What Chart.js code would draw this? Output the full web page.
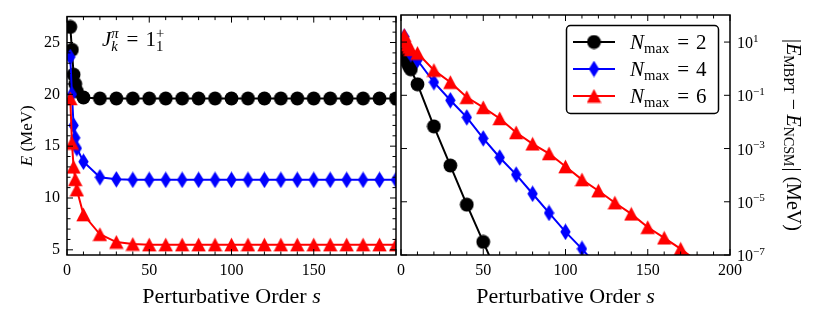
<!DOCTYPE html>
<html><head><meta charset="utf-8">
<script src="https://cdn.jsdelivr.net/npm/chart.js@4/dist/chart.umd.min.js"></script>
<style>
html,body{margin:0;padding:0;background:#fff;}
#wrap{position:relative;width:814px;height:319px;overflow:hidden;background:#fff;}
canvas{position:absolute;left:0;top:0;}
</style></head><body>
<div id="wrap">
<canvas id="cLeft" width="814" height="319" style="width:814px;height:319px"></canvas>
<canvas id="cRight" width="814" height="319" style="width:814px;height:319px"></canvas>
</div>
<script>
// ---------------- data ----------------
const orders = [2,3,4,5,6,10,20,30,40,50,60,70,80,90,100,110,120,130,140,150,160,170,180,190,200];
const nmaxValues = [2,4,6];
// left panel: E (MeV)
const energyNmax2 = [26.5,24.3,21.9,21.0,20.3,19.7,19.6,19.6,19.6,19.6,19.6,19.6,19.6,19.6,19.6,19.6,19.6,19.6,19.6,19.6,19.6,19.6,19.6,19.6,19.6];
const energyNmax4 = [23.6,20.0,17.0,15.8,14.8,13.5,12.0,11.8,11.75,11.75,11.75,11.75,11.75,11.75,11.75,11.75,11.75,11.75,11.75,11.75,11.75,11.75,11.75,11.75,11.75];
const energyNmax6 = [19.6,15.3,13.0,11.8,10.8,8.4,6.5,5.75,5.55,5.5,5.5,5.5,5.5,5.5,5.5,5.5,5.5,5.5,5.5,5.5,5.5,5.5,5.5,5.5,5.5];
// right panel: |E_MBPT - E_NCSM| (MeV)
const diffNmax2 = [3.6,2.6,1.6,1.2,0.95,0.26,6.8e-3,2.3e-4,7.8e-6,3.1e-7,1.2e-8];
const diffNmax4 = [16,9,6,4.5,3.5,2.1,0.31,0.065,0.0148,2.4e-3,4.6e-4,1.05e-4,2.0e-5,3.8e-6,7.4e-7,1.7e-7,3.5e-8];
const diffNmax6 = [18,11,8,6.5,5.3,3.85,0.88,0.31,0.084,0.035,0.0135,4.0e-3,1.5e-3,6.5e-4,2.1e-4,6.8e-5,2.6e-5,9.2e-6,3.5e-6,1.1e-6,4.4e-7,1.7e-7,5.9e-8,2.2e-8];
// ticks
const orderTicks = [0,50,100,150,200];
const energyTicks = [5,10,15,20,25];
const diffTicks = [1e1,1e-1,1e-3,1e-5,1e-7];
const diffTickExponents = ['1','\u22121','\u22123','\u22125','\u22127'];

// ---------------- helpers ----------------
const FAM = '"Liberation Serif", "Times New Roman", serif';
const fnt = (sz, it) => (it ? 'italic ' : '') + sz + 'px ' + FAM;
const pts = (xs, ys) => ys.map((v, i) => ({x: xs[i], y: v}));

function makeMarker(kind, color){
  const c = document.createElement('canvas');
  let w, h;
  if (kind === 'circle'){ w = 15; h = 15; }
  else if (kind === 'diamond'){ w = 11; h = 17; }
  else { w = 15; h = 15; }
  c.width = w; c.height = h;
  const g = c.getContext('2d');
  g.fillStyle = color; g.beginPath();
  if (kind === 'circle') g.arc(w/2, h/2, 6.9, 0, Math.PI*2);
  else if (kind === 'diamond'){ g.moveTo(w/2,0.3); g.lineTo(w-0.3,h/2); g.lineTo(w/2,h-0.3); g.lineTo(0.3,h/2); g.closePath(); }
  else { g.moveTo(w/2,0.5); g.lineTo(w-0.3,h-0.8); g.lineTo(0.3,h-0.8); g.closePath(); }
  g.fill();
  return c;
}
const colors = ['#000000','#0000ff','#ff0000'];
const markers = [makeMarker('circle',colors[0]), makeMarker('diamond',colors[1]), makeMarker('triangle',colors[2])];

function segWidth(ctx, s, size){
  if (s.gap !== undefined) return s.gap*size;
  if (s.sup !== undefined || s.sub !== undefined){
    const ss = size*0.7; let w = 0;
    if (s.sup){ ctx.font = fnt(ss, s.supIt); w = Math.max(w, ctx.measureText(s.sup).width); }
    if (s.sub){ ctx.font = fnt(ss, s.subIt); w = Math.max(w, ctx.measureText(s.sub).width); }
    return w + 1;
  }
  ctx.font = fnt(size, s.it);
  return ctx.measureText(s.t).width;
}
function drawRich(ctx, segs, x, y, size, align){
  const total = segs.reduce((a, s) => a + segWidth(ctx, s, size), 0);
  let cx = align === 'center' ? x - total/2 : (align === 'right' ? x - total : x);
  ctx.textAlign = 'left'; ctx.textBaseline = 'alphabetic'; ctx.fillStyle = '#000';
  for (const s of segs){
    const w = segWidth(ctx, s, size);
    if (s.gap !== undefined){ cx += w; continue; }
    if (s.sup !== undefined || s.sub !== undefined){
      const ss = size*0.7;
      const both = s.sup && s.sub;
      if (s.sup){ ctx.font = fnt(ss, s.supIt); ctx.fillText(s.sup, cx, y - size*0.4); }
      if (s.sub){ ctx.font = fnt(ss, s.subIt); ctx.fillText(s.sub, cx, y + size*(both ? 0.25 : 0.17)); }
    } else { ctx.font = fnt(size, s.it); ctx.fillText(s.t, cx, y); }
    cx += w;
  }
}
function line(ctx, x1, y1, x2, y2){ ctx.beginPath(); ctx.moveTo(x1,y1); ctx.lineTo(x2,y2); ctx.stroke(); }

function drawFrameAndTicks(chart, yMajor, yMinor){
  const {ctx, chartArea: a, scales: {x, y}} = chart;
  const MAJ = 6, MIN = 3.5;
  ctx.save();
  ctx.strokeStyle = '#000'; ctx.lineWidth = 1;
  const xMinor = [];
  for (let v = 10; v < 200; v += 10) if (v % 50) xMinor.push(v);
  for (const v of orderTicks){ const p = x.getPixelForValue(v); line(ctx,p,a.bottom,p,a.bottom-MAJ); line(ctx,p,a.top,p,a.top+MAJ); }
  for (const v of xMinor){ const p = x.getPixelForValue(v); line(ctx,p,a.bottom,p,a.bottom-MIN); line(ctx,p,a.top,p,a.top+MIN); }
  for (const v of yMajor){ const p = y.getPixelForValue(v); line(ctx,a.left,p,a.left+MAJ,p); line(ctx,a.right,p,a.right-MAJ,p); }
  for (const v of yMinor){ const p = y.getPixelForValue(v); line(ctx,a.left,p,a.left+MIN,p); line(ctx,a.right,p,a.right-MIN,p); }
  ctx.lineWidth = 1.5;
  ctx.strokeRect(a.left, a.top, a.right - a.left, a.bottom - a.top);
  ctx.restore();
}

function xAxisCfg(hideLast){
  return {
    type: 'linear', min: 0, max: 200,
    grid: {display: false, drawTicks: false}, border: {display: false},
    afterBuildTicks: s => { s.ticks = orderTicks.map(v => ({value: v})); },
    afterFit: s => { s.height = 64; },
    ticks: {autoSkip: false, maxRotation: 0, padding: 6, color: '#000',
      font: {family: '"Liberation Serif", serif', size: 16},
      callback: v => (hideLast && v === 200) ? '' : String(v)}
  };
}
function seriesDataset(i, data){
  return {
    label: 'Nmax = ' + nmaxValues[i], data: data,
    borderColor: colors[i], backgroundColor: colors[i], borderWidth: 2,
    pointStyle: markers[i], pointRadius: 7, pointBorderWidth: 0, pointHoverRadius: 7,
    tension: 0, fill: false, order: 3 - i
  };
}

// ---------------- left chart ----------------
const energyMinor = [];
for (let v = 5; v <= 27; v++) if (v % 5) energyMinor.push(v);

new Chart(document.getElementById('cLeft'), {
  type: 'line',
  data: {datasets: [
    seriesDataset(0, pts(orders, energyNmax2)),
    seriesDataset(1, pts(orders, energyNmax4)),
    seriesDataset(2, pts(orders, energyNmax6))
  ]},
  options: {
    responsive: false, animation: false, devicePixelRatio: 1,
    layout: {padding: {left: 0, right: 814 - 396, top: 15, bottom: 0}},
    plugins: {legend: {display: false}, tooltip: {enabled: false}},
    scales: {
      x: xAxisCfg(true),
      y: {type: 'linear', min: 4.5, max: 27.5, position: 'left',
        grid: {display: false, drawTicks: false}, border: {display: false},
        afterBuildTicks: s => { s.ticks = energyTicks.map(v => ({value: v})); },
        afterFit: s => { s.width = 67; },
        ticks: {padding: 7, color: '#000', font: {family: '"Liberation Serif", serif', size: 16}}}
    }
  },
  plugins: [{
    id: 'leftDeco',
    afterDatasetsDraw(chart){ drawFrameAndTicks(chart, energyTicks, energyMinor); },
    afterDraw(chart){
      const {ctx, chartArea: a} = chart;
      ctx.save();
      drawRich(ctx, [{t:'Perturbative Order '},{t:'s', it:true}], (a.left + a.right)/2, 303, 22, 'center');
      ctx.translate(32, (a.top + a.bottom)/2);
      ctx.rotate(-Math.PI/2);
      drawRich(ctx, [{t:'E', it:true},{t:' (MeV)'}], 0, 0, 17, 'center');
      ctx.restore();
      ctx.save();
      drawRich(ctx, [{t:'J', it:true},{sup:'\u03c0', supIt:true, sub:'k', subIt:true},{gap:0.33},{t:'='},{gap:0.33},{t:'1'},{sup:'+', sub:'1'}], a.left + 35, 46, 21, 'left');
      ctx.restore();
    }
  }]
});

// ---------------- right chart ----------------
new Chart(document.getElementById('cRight'), {
  type: 'line',
  data: {datasets: [
    seriesDataset(0, pts(orders, diffNmax2)),
    seriesDataset(1, pts(orders, diffNmax4)),
    seriesDataset(2, pts(orders, diffNmax6))
  ]},
  options: {
    responsive: false, animation: false, devicePixelRatio: 1,
    layout: {padding: {left: 401, right: 0, top: 15, bottom: 0}},
    plugins: {legend: {display: false}, tooltip: {enabled: false}},
    scales: {
      x: xAxisCfg(false),
      y: {type: 'logarithmic', min: 1e-7, max: 104, position: 'right',
        grid: {display: false, drawTicks: false}, border: {display: false},
        afterBuildTicks: s => { s.ticks = diffTicks.map(v => ({value: v})); },
        afterFit: s => { s.width = 814 - 730; },
        ticks: {display: false}}
    }
  },
  plugins: [{
    id: 'rightDeco',
    afterDatasetsDraw(chart){ drawFrameAndTicks(chart, diffTicks, []); },
    afterDraw(chart){
      const {ctx, chartArea: a, scales: {y}} = chart;
      ctx.save();
      // log tick labels
      diffTicks.forEach((v, i) => {
        const p = y.getPixelForValue(v);
        drawRich(ctx, [{t:'10'},{sup: diffTickExponents[i]}], a.right + 7, p + 6, 16, 'left');
      });
      // x title
      drawRich(ctx, [{t:'Perturbative Order '},{t:'s', it:true}], (a.left + a.right)/2, 303, 22, 'center');
      // right y title
      ctx.save();
      ctx.translate(787, (a.top + a.bottom)/2);
      ctx.rotate(Math.PI/2);
      drawRich(ctx, [{t:'|'},{t:'E', it:true},{sub:'MBPT'},{gap:0.22},{t:'\u2212'},{gap:0.22},{t:'E', it:true},{sub:'NCSM'},{t:'| (MeV)'}], 0, 0, 20, 'center');
      ctx.restore();
      // legend
      const bx = 566.5, by = 25.5, bw = 152, bh = 88;
      ctx.beginPath();
      ctx.roundRect(bx, by, bw, bh, 4);
      ctx.fillStyle = '#fff'; ctx.fill();
      ctx.lineWidth = 1.5; ctx.strokeStyle = '#000'; ctx.stroke();
      const rows = [42, 69, 96];
      nmaxValues.forEach((n, i) => {
        const ry = rows[i];
        ctx.strokeStyle = colors[i]; ctx.lineWidth = 2;
        line(ctx, 573, ry, 615, ry);
        const m = markers[i];
        ctx.drawImage(m, 594 - m.width/2, ry - m.height/2);
        drawRich(ctx, [{t:'N', it:true},{sub:'max'},{gap:0.33},{t:'='},{gap:0.33},{t:String(n)}], 630, ry + 7, 21, 'left');
      });
      ctx.restore();
    }
  }]
});
</script>
</body></html>
